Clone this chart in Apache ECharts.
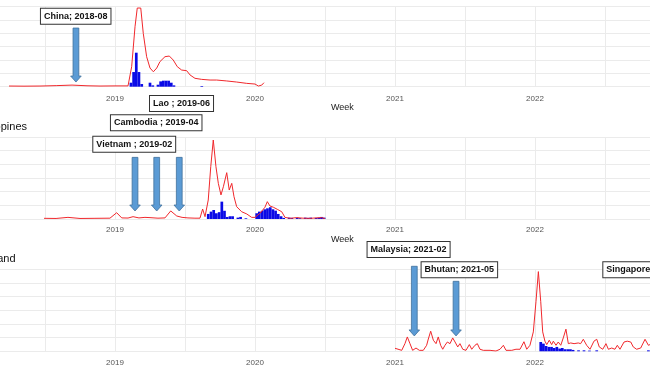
<!DOCTYPE html>
<html>
<head>
<meta charset="utf-8">
<script src="https://cdn.jsdelivr.net/npm/echarts@6/dist/echarts.min.js"></script>
<style>html,body{margin:0;padding:0;background:#fff;}#c{width:650px;height:366px;}</style>
</head>
<body>
<div id="c"></div>
<script>
// ---- Panel 1: China ----
const chinaTrendWeeks = [2018.243, 2018.35, 2018.464, 2018.58, 2018.693, 2018.8, 2018.893, 2019.0, 2019.093, 2019.119, 2019.143, 2019.159, 2019.184, 2019.202, 2019.226, 2019.25, 2019.274, 2019.298, 2019.321, 2019.357, 2019.388, 2019.416, 2019.445, 2019.476, 2019.512, 2019.536, 2019.571, 2019.619, 2019.679, 2019.726, 2019.798, 2019.869, 2019.941, 2020.0, 2020.024, 2020.048, 2020.064];
const chinaTrend = [0.05, 0.04, 0.05, 0.08, 0.12, 0.07, 0.05, 0.06, 0.06, 1.5, 4.5, 5.9, 5.9, 4.0, 2.25, 1.4, 1.12, 1.4, 1.88, 2.25, 2.3, 2.0, 1.5, 1.25, 1.2, 0.88, 0.63, 0.55, 0.5, 0.5, 0.43, 0.35, 0.25, 0.2, 0.05, 0.12, 0.3];
const chinaCaseWeeks = [2019.114, 2019.133, 2019.152, 2019.171, 2019.191, 2019.25, 2019.27, 2019.307, 2019.326, 2019.345, 2019.364, 2019.383, 2019.402, 2019.421, 2019.62];
const chinaCases = [0.3, 1.1, 2.55, 1.1, 0.2, 0.3, 0.1, 0.15, 0.4, 0.45, 0.45, 0.45, 0.3, 0.1, 0.05];

// ---- Panel 2: Philippines ----
const phTrendWeeks = [2018.493, 2018.579, 2018.664, 2018.75, 2018.857, 2018.964, 2019.012, 2019.048, 2019.093, 2019.129, 2019.171, 2019.214, 2019.25, 2019.307, 2019.357, 2019.398, 2019.441, 2019.479, 2019.521, 2019.571, 2019.607, 2019.626, 2019.643, 2019.666, 2019.684, 2019.702, 2019.721, 2019.738, 2019.757, 2019.774, 2019.798, 2019.816, 2019.834, 2019.85, 2019.869, 2019.905, 2019.941, 2019.976, 2020.0, 2020.036, 2020.071, 2020.088, 2020.107, 2020.131, 2020.159, 2020.191, 2020.214, 2020.25, 2020.298, 2020.343, 2020.393, 2020.436, 2020.476, 2020.5];
const phTrend = [0.05, 0.04, 0.12, 0.04, 0.05, 0.06, 0.46, 0.08, 0.07, 0.17, 0.08, 0.12, 0.1, 0.06, 0.08, 0.59, 0.22, 0.12, 0.08, 0.06, 0.06, 0.73, 0.17, 1.39, 3.83, 5.78, 3.83, 2.61, 1.76, 2.36, 3.39, 2.12, 2.61, 1.63, 0.9, 0.53, 0.37, 0.12, 0.12, 0.42, 0.86, 1.27, 0.95, 0.86, 0.71, 0.53, 0.12, 0.05, 0.1, 0.06, 0.05, 0.08, 0.1, 0.03];
const phCaseWeeks = [2019.666, 2019.686, 2019.705, 2019.724, 2019.744, 2019.763, 2019.782, 2019.801, 2019.821, 2019.84, 2019.878, 2019.897, 2019.935, 2020.012, 2020.031, 2020.051, 2020.07, 2020.089, 2020.109, 2020.128, 2020.147, 2020.166, 2020.186, 2020.205, 2020.244, 2020.263, 2020.301, 2020.321, 2020.359, 2020.379, 2020.398, 2020.436, 2020.456, 2020.475, 2020.494];
const phCases = [0.37, 0.54, 0.66, 0.42, 0.5, 1.27, 0.6, 0.15, 0.2, 0.2, 0.1, 0.15, 0.05, 0.42, 0.54, 0.6, 0.71, 0.78, 0.86, 0.71, 0.61, 0.37, 0.2, 0.08, 0.1, 0.08, 0.1, 0.06, 0.1, 0.08, 0.1, 0.08, 0.1, 0.15, 0.1];

// ---- Panel 3: Thailand ----
const thTrendWeeks = [2021.0, 2021.012, 2021.048, 2021.071, 2021.088, 2021.107, 2021.126, 2021.15, 2021.174, 2021.202, 2021.226, 2021.238, 2021.255, 2021.274, 2021.293, 2021.309, 2021.326, 2021.341, 2021.357, 2021.374, 2021.393, 2021.412, 2021.429, 2021.448, 2021.464, 2021.484, 2021.507, 2021.531, 2021.548, 2021.571, 2021.588, 2021.607, 2021.631, 2021.679, 2021.721, 2021.75, 2021.774, 2021.793, 2021.834, 2021.864, 2021.893, 2021.921, 2021.941, 2021.964, 2021.988, 2022.007, 2022.024, 2022.041, 2022.055, 2022.071, 2022.084, 2022.102, 2022.119, 2022.131, 2022.15, 2022.166, 2022.184, 2022.202, 2022.221, 2022.238, 2022.255, 2022.279, 2022.309, 2022.326, 2022.345, 2022.369, 2022.393, 2022.421, 2022.441, 2022.459, 2022.484, 2022.507, 2022.524, 2022.548, 2022.571, 2022.588, 2022.607, 2022.636, 2022.659, 2022.684, 2022.702, 2022.726, 2022.755, 2022.786, 2022.81, 2022.836, 2022.893];
const thTrend = [0.22, 0.15, 0.07, 0.56, 1.05, 0.56, 0.07, 0.24, 0.07, 0.07, 0.44, 0.9, 1.47, 0.81, 0.56, 1.05, 0.44, 0.15, 0.44, 0.68, 0.56, 0.98, 0.68, 0.32, 0.56, 0.15, 0.07, 0.49, 0.15, 0.44, 0.56, 0.15, 0.07, 0.07, 0.02, 0.15, 0.44, 0.07, 0.07, 0.15, 0.15, 0.7, 0.15, 0.44, 1.42, 3.63, 5.83, 3.63, 1.42, 0.74, 0.49, 0.81, 0.49, 0.74, 0.44, 0.68, 0.44, 0.98, 1.62, 0.56, 0.61, 0.56, 0.61, 0.56, 0.88, 0.44, 0.15, 0.74, 0.88, 0.32, 0.15, 0.56, 0.15, 0.24, 0.15, 0.44, 0.15, 0.68, 0.74, 0.68, 0.32, 0.15, 0.24, 0.88, 0.44, 0.56, 0.3];
const thCaseWeeks = [2022.041, 2022.06, 2022.079, 2022.099, 2022.118, 2022.137, 2022.156, 2022.176, 2022.195, 2022.214, 2022.234, 2022.253, 2022.272, 2022.311, 2022.35, 2022.389, 2022.441, 2022.81];
const thCases = [0.68, 0.56, 0.39, 0.32, 0.32, 0.24, 0.32, 0.2, 0.24, 0.15, 0.15, 0.15, 0.1, 0.07, 0.07, 0.05, 0.07, 0.07];

// ---- Annotations (introduction dates) ----
const chinaNotes = ['China; 2018-08'];
const chinaNoteArrowX = [2018.721], chinaNoteArrowTop = [4.4], chinaNoteArrowTip = [0.35];
const chinaNoteBoxX = [2018.471], chinaNoteBoxY = [5.85];

const phNotes = ['Vietnam ; 2019-02', 'Cambodia ; 2019-04', 'Lao ; 2019-06'];
const phNoteArrowX = [2019.143, 2019.298, 2019.459], phNoteArrowTop = [4.51, 4.51, 4.51], phNoteArrowTip = [0.585, 0.585, 0.585];
const phNoteBoxX = [2018.845, 2018.971, 2019.25], phNoteBoxY = [6.02, 7.59, 9.0];

const thNotes = ['Malaysia; 2021-02', 'Bhutan; 2021-05', 'Singapore; 2022-09'];
const thNoteArrowX = [2021.138, 2021.436, 2022.9], thNoteArrowTop = [6.22, 5.12, 5.12], thNoteArrowTip = [1.125, 1.125, 1.125];
const thNoteBoxX = [2020.804, 2021.19, 2022.488], thNoteBoxY = [7.99, 6.51, 6.51];

const yearTicks = [2019, 2020, 2021, 2022];

const FONT = '"Liberation Sans", Arial, sans-serif';
const zip = (a, b) => a.map((v, i) => [v, b[i]]);

function annoRender(labels) {
  return function (params, api) {
    const x = api.value(0), top = api.value(1), tip = api.value(2), bx = api.value(3), by = api.value(4);
    const pTop = api.coord([x, top]);
    const pTip = api.coord([x, tip]);
    const cx = pTip[0], hs = 2.9, hh = 5.3, hl = 6;
    const headY = pTip[1] - hl;
    const pb = api.coord([bx, by]);
    return {
      type: 'group',
      children: [
        { type: 'polygon', shape: { points: [[cx - hs, pTop[1]], [cx + hs, pTop[1]], [cx + hs, headY], [cx + hh, headY], [cx, pTip[1]], [cx - hh, headY], [cx - hs, headY]] },
          style: { fill: '#5b9bd5', stroke: '#41719c', lineWidth: 0.8 } },
        { type: 'text', x: pb[0], y: pb[1],
          style: { text: labels[params.dataIndex], font: 'bold 9px ' + FONT, fill: '#111', align: 'left', verticalAlign: 'top',
                   backgroundColor: '#fff', borderColor: '#333', borderWidth: 1, padding: [3, 3] } }
      ]
    };
  };
}

function annoData(ax, at, atip, bx, by) {
  return ax.map((v, i) => [v, at[i], atip[i], bx[i], by[i]]);
}

const grids = [
  { left: -25, right: -25, top: 6.7, height: 80 },
  { left: -25, right: -25, top: 137, height: 82 },
  { left: -25, right: -25, top: 269.3, height: 82 }
];
const labelMargins = [8, 7, 7];

const xAxes = grids.map((g, i) => ({
  type: 'value', gridIndex: i, min: 2018, max: 2023, interval: 0.5,
  axisLine: { show: false }, axisTick: { show: false },
  splitLine: { show: true, lineStyle: { color: '#ebebeb', width: 1 } },
  axisLabel: { margin: labelMargins[i], fontSize: 8, color: '#555', fontFamily: FONT,
    formatter: v => (yearTicks.indexOf(v) >= 0 ? String(v) : '') }
}));
const yAxes = grids.map((g, i) => ({
  type: 'value', gridIndex: i, min: 0, max: 6, interval: 1,
  axisLine: { show: false }, axisTick: { show: false }, axisLabel: { show: false },
  splitLine: { show: true, lineStyle: { color: '#ebebeb', width: 1 } }
}));

function panelSeries(i, caseW, cases, trendW, trend, notes, ax, at, atip, bx, by) {
  return [
    { type: 'bar', xAxisIndex: i, yAxisIndex: i, data: zip(caseW, cases), barWidth: 2.7, itemStyle: { color: '#0a0ae6' }, silent: true },
    { type: 'line', xAxisIndex: i, yAxisIndex: i, data: zip(trendW, trend), showSymbol: false, lineStyle: { color: '#f0282c', width: 1 }, silent: true, z: 3 },
    { type: 'custom', xAxisIndex: i, yAxisIndex: i, clip: false, silent: true, z: 5,
      renderItem: annoRender(notes), data: annoData(ax, at, atip, bx, by) }
  ];
}

const chart = echarts.init(document.getElementById('c'), null, { renderer: 'canvas' });
chart.setOption({
  animation: false,
  backgroundColor: '#fff',
  grid: grids.map(g => Object.assign({ outerBoundsMode: 'none', containLabel: false }, g)),
  xAxis: xAxes,
  yAxis: yAxes,
  series: [].concat(
    panelSeries(0, chinaCaseWeeks, chinaCases, chinaTrendWeeks, chinaTrend, chinaNotes, chinaNoteArrowX, chinaNoteArrowTop, chinaNoteArrowTip, chinaNoteBoxX, chinaNoteBoxY),
    panelSeries(1, phCaseWeeks, phCases, phTrendWeeks, phTrend, phNotes, phNoteArrowX, phNoteArrowTop, phNoteArrowTip, phNoteBoxX, phNoteBoxY),
    panelSeries(2, thCaseWeeks, thCases, thTrendWeeks, thTrend, thNotes, thNoteArrowX, thNoteArrowTop, thNoteArrowTip, thNoteBoxX, thNoteBoxY)
  ),
  graphic: [
    { type: 'text', left: 331, top: 103, style: { text: 'Week', font: '9px ' + FONT, fill: '#222' } },
    { type: 'text', left: 331, top: 235, style: { text: 'Week', font: '9px ' + FONT, fill: '#222' } },
    { type: 'text', x: 27, y: 127, style: { text: 'Philippines', font: '11px ' + FONT, fill: '#111', align: 'right', verticalAlign: 'middle' } },
    { type: 'text', x: 15.5, y: 258.5, style: { text: 'Thailand', font: '11px ' + FONT, fill: '#111', align: 'right', verticalAlign: 'middle' } }
  ]
});
</script>
</body>
</html>
